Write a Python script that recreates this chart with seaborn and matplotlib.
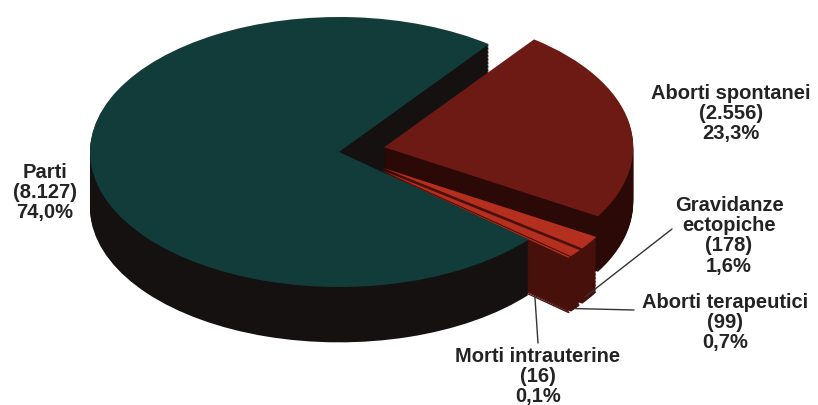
import numpy as np
import matplotlib
matplotlib.use('Agg')
import matplotlib.pyplot as plt
import seaborn as sns

sns.set_style('white')
plt.rcParams['font.family'] = ['Liberation Sans', 'DejaVu Sans']

# data
categories = ['Parti', 'Aborti spontanei', 'Gravidanze\nectopiche',
              'Aborti terapeutici', 'Morti intrauterine']
counts = [8127, 2556, 178, 99, 16]
pct_labels = ['74,0%', '23,3%', '1,6%', '0,7%', '0,1%']
count_labels = ['8.127', '2.556', '178', '99', '16']
# plotted in this order, clockwise from the top-right edge of the red slice
order = [1, 2, 3, 4, 0]

top_colors = ['#123c39', '#6d1a14', '#b52f1e', '#b52f1e', '#b52f1e']
side_colors = ['#151111', '#2a0906', '#48100b', '#48100b', '#48100b']
explode_map = [0.0, 0.185, 0.21, 0.21, 0.21]

vals = [counts[i] for i in order]
tops = [top_colors[i] for i in order]
sides = [side_colors[i] for i in order]
expl = [explode_map[i] for i in order]

W, H = 818, 405
fig = plt.figure(figsize=(W / 100, H / 100), dpi=100)
ax = fig.add_axes([0, 0, 1, 1])

depth = 0.41
start = 53
for off in np.linspace(-depth, -0.01, 40):
    ax.pie(vals, colors=sides, explode=expl, startangle=start,
           counterclock=False, center=(0, off),
           wedgeprops=dict(linewidth=0))
wedges, _ = ax.pie(vals, colors=tops, explode=expl, startangle=start,
                   counterclock=False,
                   wedgeprops=dict(linewidth=0))

# pie centre at pixel (339,152); 249 px per unit in x, 135 px in y
cx_px, cy_px, sx, sy = 339, 152, 249, 135
ax.set_aspect('auto')
ax.set_xlim(-cx_px / sx, (W - cx_px) / sx)
ax.set_ylim(-(H - cy_px) / sy, cy_px / sy)
ax.axis('off')


def fig_xy(x, y):
    return x / W, 1 - y / H


def label(i):
    return f'{categories[i]}\n({count_labels[i]})\n{pct_labels[i]}'


txt = dict(ha='center', va='top', fontsize=14.5, fontweight='bold',
           color='#232323', linespacing=1.08)

fig.text(*fig_xy(45, 163), label(0), **txt)
fig.text(*fig_xy(731, 84), label(1), **txt)
fig.text(*fig_xy(729, 196), label(2), **txt)
fig.text(*fig_xy(725, 293), label(3), **txt)
fig.text(*fig_xy(538, 347), label(4), **txt)


def anchor(w, frac):
    mid = np.deg2rad((w.theta1 + w.theta2) / 2)
    return (w.center[0] + frac * w.r * np.cos(mid),
            w.center[1] + frac * w.r * np.sin(mid) - depth)


line = dict(arrowstyle='-', color='#333333', lw=1.0, shrinkA=0, shrinkB=0)
pos = {c: k for k, c in enumerate(order)}
ax.annotate('', xy=anchor(wedges[pos[2]], 0.98), xycoords='data',
            xytext=fig_xy(672, 229), textcoords='figure fraction', arrowprops=line)
ax.annotate('', xy=anchor(wedges[pos[3]], 1.0), xycoords='data',
            xytext=fig_xy(634, 310), textcoords='figure fraction', arrowprops=line)
ax.annotate('', xy=anchor(wedges[pos[4]], 0.82), xycoords='data',
            xytext=fig_xy(538, 343), textcoords='figure fraction', arrowprops=line)

fig.savefig('out.png', dpi=100, facecolor='white')
